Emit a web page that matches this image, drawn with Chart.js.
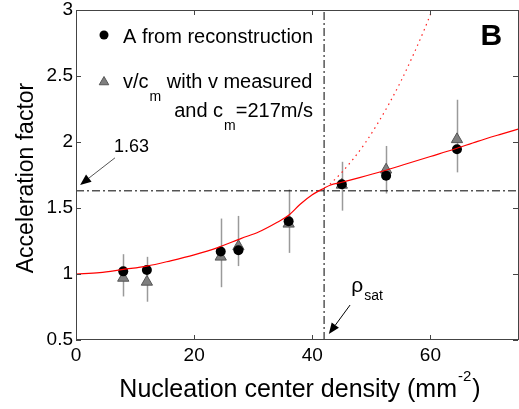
<!DOCTYPE html>
<html lang="en">
<head>
<meta charset="UTF-8">
<title>Acceleration factor vs nucleation center density</title>
<script src="https://cdn.jsdelivr.net/npm/chart.js"></script>
<style>
  html, body { margin: 0; padding: 0; background: #fff; overflow: hidden; }
  #chartContainer { width: 519px; height: 409px; }
  canvas { display: block; }
</style>
</head>
<body>
<div id="chartContainer"><canvas id="myChart" width="519" height="409"></canvas></div>
<script>
// measured points
const density    = [8, 12, 24.5, 27.5, 36, 45, 52.5, 64.5];
const accelRecon = [1.02, 1.03, 1.17, 1.18, 1.40, 1.68, 1.745, 1.945];
const accelVel   = [0.97, 0.94, 1.13, 1.21, 1.38, 1.675, 1.79, 2.02];
const errLow     = [0.83, 0.79, 0.90, 1.06, 1.16, 1.48, 1.61, 1.77];
const errHigh    = [1.15, 1.13, 1.42, 1.44, 1.64, 1.85, 1.97, 2.32];

// model curve (solid) and its extension without saturation (dotted)
const fitX = [0, 4, 8, 12, 16, 20, 24, 28, 31, 34, 36, 38, 40, 42, 43, 45, 48, 52, 56, 60, 64, 68, 72, 75];
const fitY = [1.0, 1.01, 1.035, 1.06, 1.10, 1.145, 1.20, 1.27, 1.32, 1.39, 1.445, 1.53, 1.60, 1.65, 1.672, 1.695, 1.73, 1.78, 1.835, 1.89, 1.945, 2.005, 2.06, 2.10];
const satX = [43, 45, 47, 49, 51, 53, 55, 57, 59, 60.3];
const satY = [1.68, 1.77, 1.875, 1.995, 2.135, 2.29, 2.46, 2.65, 2.855, 3.0];

// reference lines
const refY = 1.63;   // horizontal dash-dot
const rhoSat = 42;   // vertical dash-dot

const xTickVals = [0, 20, 40, 60];
const yTickVals = [0.5, 1, 1.5, 2, 2.5, 3];

const FONT = '"Liberation Sans", Arial, Helvetica, sans-serif';

function pts(xs, ys) { return xs.map((x, i) => ({ x: x, y: ys[i] })); }

function arrow(ctx, x1, y1, x2, y2, lineColor) {
    const ang = Math.atan2(y2 - y1, x2 - x1);
    const hl = 11, hw = 4.5;
    const bx = x2 - hl * Math.cos(ang), by = y2 - hl * Math.sin(ang);
    ctx.strokeStyle = lineColor;
    ctx.lineWidth = 1;
    ctx.beginPath();
    ctx.moveTo(x1, y1);
    ctx.lineTo(bx, by);
    ctx.stroke();
    ctx.fillStyle = '#000';
    ctx.beginPath();
    ctx.moveTo(x2, y2);
    ctx.lineTo(bx + hw * Math.sin(ang), by - hw * Math.cos(ang));
    ctx.lineTo(bx - hw * Math.sin(ang), by + hw * Math.cos(ang));
    ctx.closePath();
    ctx.fill();
}

function triangle(ctx, x, y, r) {
    ctx.beginPath();
    ctx.moveTo(x, y - r);
    ctx.lineTo(x + r * Math.sin(2 * Math.PI / 3), y - r * Math.cos(2 * Math.PI / 3));
    ctx.lineTo(x + r * Math.sin(4 * Math.PI / 3), y - r * Math.cos(4 * Math.PI / 3));
    ctx.closePath();
}

const extras = {
    id: 'extras',
    beforeDatasetsDraw(chart) {
        // error bars
        const ctx = chart.ctx, xs = chart.scales.x, ys = chart.scales.y;
        ctx.save();
        ctx.strokeStyle = '#9a9a9a';
        ctx.lineWidth = 1.5;
        density.forEach((d, i) => {
            const px = Math.round(xs.getPixelForValue(d)) + 0.5;
            ctx.beginPath();
            ctx.moveTo(px, ys.getPixelForValue(errLow[i]));
            ctx.lineTo(px, ys.getPixelForValue(errHigh[i]));
            ctx.stroke();
        });
        ctx.restore();
    },
    afterDraw(chart) {
        const ctx = chart.ctx, xs = chart.scales.x, ys = chart.scales.y;
        const a = chart.chartArea;
        ctx.save();

        // frame with inward ticks
        ctx.strokeStyle = '#444';
        ctx.lineWidth = 1;
        ctx.strokeRect(a.left + 0.5, a.top + 0.5, a.right - a.left - 1, a.bottom - a.top - 1);
        ctx.beginPath();
        xTickVals.forEach(v => {
            const px = Math.round(xs.getPixelForValue(v)) + 0.5;
            ctx.moveTo(px, a.bottom); ctx.lineTo(px, a.bottom - 5);
            ctx.moveTo(px, a.top); ctx.lineTo(px, a.top + 5);
        });
        yTickVals.forEach(v => {
            const py = Math.round(ys.getPixelForValue(v)) + 0.5;
            ctx.moveTo(a.left, py); ctx.lineTo(a.left + 5, py);
            ctx.moveTo(a.right - 1, py); ctx.lineTo(a.right - 6, py);
        });
        ctx.stroke();

        ctx.fillStyle = '#000';
        ctx.textBaseline = 'alphabetic';

        // axis titles
        ctx.save();
        ctx.translate(33, 178);
        ctx.rotate(-Math.PI / 2);
        ctx.textAlign = 'center';
        ctx.font = '23px ' + FONT;
        ctx.fillText('Acceleration factor', 0, 0);
        ctx.restore();

        ctx.textAlign = 'left';
        const t1 = 'Nucleation center density (mm', sup = '-2', t2 = ')';
        ctx.font = '25px ' + FONT;
        const w1 = ctx.measureText(t1).width, w3 = ctx.measureText(t2).width;
        ctx.font = '15px ' + FONT;
        const w2 = ctx.measureText(sup).width;
        let sx = 299 - (w1 + w2 + w3) / 2;
        ctx.font = '25px ' + FONT;
        ctx.fillText(t1, sx, 397);
        ctx.font = '15px ' + FONT;
        ctx.fillText(sup, sx + w1 + 1, 381);
        ctx.font = '25px ' + FONT;
        ctx.fillText(t2, sx + w1 + w2 + 2, 397);

        // legend
        ctx.fillStyle = '#000';
        ctx.beginPath();
        ctx.arc(104, 35, 4.5, 0, 2 * Math.PI);
        ctx.fill();
        ctx.fillStyle = '#7f7f7f';
        ctx.strokeStyle = '#555';
        triangle(ctx, 104, 82, 5.5);
        ctx.fill();
        ctx.stroke();

        ctx.fillStyle = '#000';
        ctx.font = '20px ' + FONT;
        ctx.fillText('A from reconstruction', 123, 43);
        let lx = 123;
        ctx.fillText('v/c', lx, 88);
        lx += ctx.measureText('v/c').width;
        ctx.font = '14px ' + FONT;
        ctx.fillText('m', lx + 1, 101);
        lx += ctx.measureText('m').width + 1;
        ctx.font = '20px ' + FONT;
        ctx.fillText(' with v measured', lx, 88);

        const p1 = 'and c', p2 = 'm', p3 = '=217m/s';
        const q1 = ctx.measureText(p1).width, q3 = ctx.measureText(p3).width;
        ctx.font = '14px ' + FONT;
        const q2 = ctx.measureText(p2).width;
        lx = 313 - (q1 + q2 + q3 + 1);
        ctx.font = '20px ' + FONT;
        ctx.fillText(p1, lx, 117);
        ctx.font = '14px ' + FONT;
        ctx.fillText(p2, lx + q1 + 1, 130);
        ctx.font = '20px ' + FONT;
        ctx.fillText(p3, lx + q1 + q2 + 1, 117);

        // panel letter
        ctx.font = 'bold 30px ' + FONT;
        ctx.textAlign = 'center';
        ctx.fillText('B', xs.getPixelForValue(70.3), 45);

        // 1.63 note with arrow
        ctx.font = '18px ' + FONT;
        ctx.fillText('1.63', xs.getPixelForValue(9.4), 152);
        arrow(ctx, xs.getPixelForValue(6.6), ys.getPixelForValue(1.88),
              xs.getPixelForValue(0.7), ys.getPixelForValue(1.675), '#555');

        // rho_sat note with arrow
        ctx.textAlign = 'left';
        const rx = xs.getPixelForValue(46.6);
        ctx.font = '21px ' + FONT;
        ctx.fillText('\u03C1', rx, 292);
        const rw = ctx.measureText('\u03C1').width;
        ctx.font = '14px ' + FONT;
        ctx.fillText('sat', rx + rw + 1, 300);
        arrow(ctx, xs.getPixelForValue(46.4), ys.getPixelForValue(0.765),
              xs.getPixelForValue(42.8), ys.getPixelForValue(0.545), '#000');

        ctx.restore();
    }
};

function noPadding(axis) {
    axis.paddingLeft = 0;
    axis.paddingRight = 0;
    axis.paddingTop = 0;
    axis.paddingBottom = 0;
}

const ctx = document.getElementById('myChart').getContext('2d');

new Chart(ctx, {
    type: 'scatter',
    data: {
        datasets: [
            {
                type: 'line',
                label: 'model',
                data: pts(fitX, fitY),
                borderColor: '#ff0000',
                borderWidth: 1.2,
                pointRadius: 0,
                cubicInterpolationMode: 'monotone',
                fill: false,
                order: 0
            },
            {
                type: 'line',
                label: 'no saturation',
                data: pts(satX, satY),
                borderColor: '#ff2020',
                borderWidth: 1.2,
                borderDash: [1.5, 4],
                pointRadius: 0,
                cubicInterpolationMode: 'monotone',
                fill: false,
                order: 1
            },
            {
                label: 'A from reconstruction',
                data: pts(density, accelRecon),
                pointStyle: 'circle',
                pointRadius: 5,
                backgroundColor: '#000',
                borderColor: '#000',
                borderWidth: 0,
                order: 2
            },
            {
                label: 'v/cm',
                data: pts(density, accelVel),
                pointStyle: 'triangle',
                pointRadius: 6.5,
                backgroundColor: '#7f7f7f',
                borderColor: '#555',
                borderWidth: 1,
                order: 3
            },
            {
                type: 'line',
                label: 'ref y',
                data: [{ x: 0, y: refY }, { x: 75, y: refY }],
                borderColor: '#000',
                borderWidth: 1,
                borderDash: [8, 3, 2, 3],
                pointRadius: 0,
                order: 4
            },
            {
                type: 'line',
                label: 'rho sat',
                data: [{ x: rhoSat, y: 0.5 }, { x: rhoSat, y: 3 }],
                borderColor: '#000',
                borderWidth: 1,
                borderDash: [8, 3, 2, 3],
                pointRadius: 0,
                order: 5
            }
        ]
    },
    options: {
        responsive: false,
        animation: false,
        layout: { autoPadding: false, padding: { top: 10, right: -1, left: 0, bottom: 0 } },
        plugins: {
            legend: { display: false },
            tooltip: { enabled: false }
        },
        scales: {
            x: {
                type: 'linear',
                min: 0,
                max: 75,
                afterBuildTicks: axis => { axis.ticks = xTickVals.map(v => ({ value: v })); },
                afterFit: axis => { axis.height = 69; noPadding(axis); },
                grid: { display: false, drawTicks: false },
                border: { display: false },
                ticks: { color: '#000', font: { family: FONT, size: 19 }, padding: 4, maxRotation: 0,
                         callback: v => String(v) }
            },
            y: {
                type: 'linear',
                min: 0.5,
                max: 3,
                afterBuildTicks: axis => { axis.ticks = yTickVals.map(v => ({ value: v })); },
                afterFit: axis => { axis.width = 76; noPadding(axis); },
                grid: { display: false, drawTicks: false },
                border: { display: false },
                ticks: { color: '#000', font: { family: FONT, size: 19 }, padding: 3,
                         callback: v => String(v) }
            }
        }
    },
    plugins: [extras]
});
</script>
</body>
</html>
